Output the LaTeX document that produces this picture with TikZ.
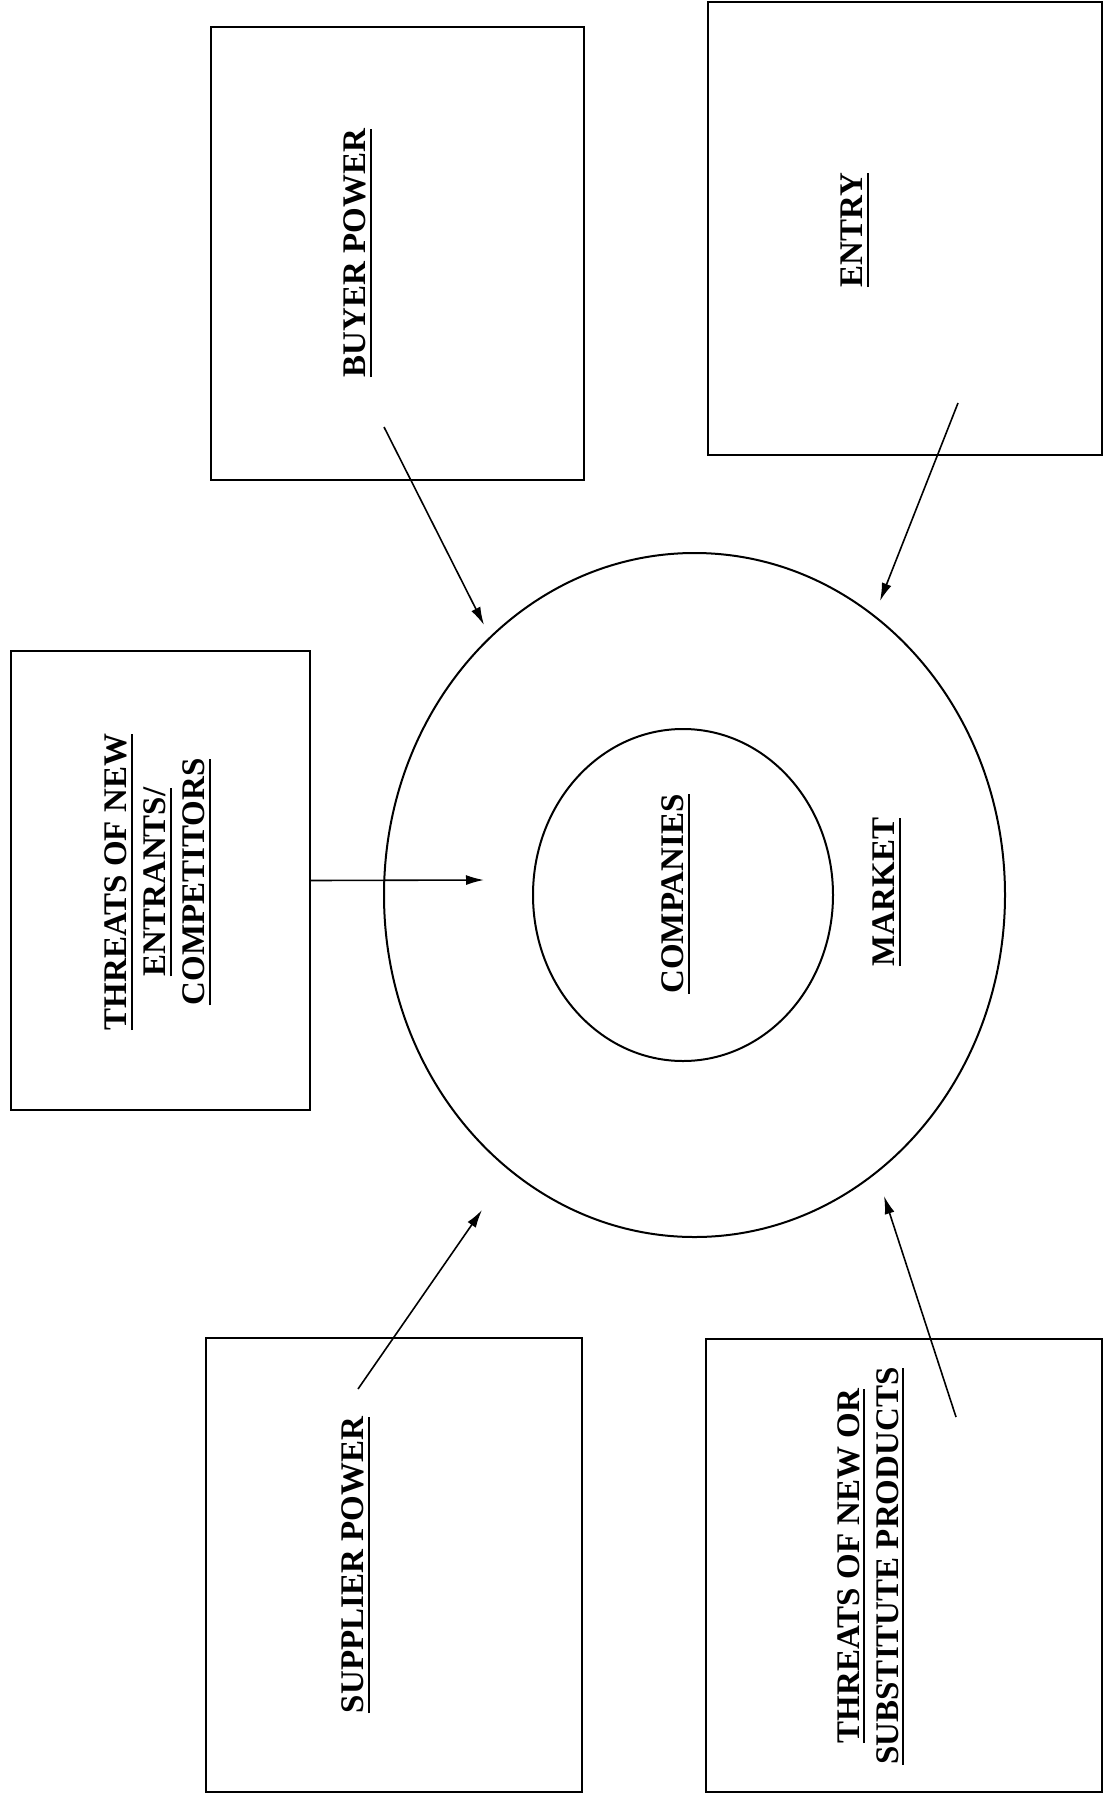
\documentclass[tikz,border=0pt]{standalone}
\usepackage{fontspec}
\setmainfont{Liberation Serif}
\usetikzlibrary{positioning,arrows.meta,calc,shapes.geometric}
\newcommand\forceul[1]{\setbox0\hbox{#1}\rlap{\rule[-3pt]{\wd0}{1.1pt}}\box0}

\begin{document}
\begin{tikzpicture}[x=0.5pt, y=-0.5pt,
    every node/.style={font=\fontsize{16.5}{19.5}\selectfont\bfseries, align=center},
    forcebox/.style={draw, line width=1pt, inner sep=0pt},
    forcetext/.style={rotate=90, inner sep=1pt},
    ring/.style={draw, ellipse, line width=1pt, inner sep=0pt},
    push/.style={-{Latex[length=9pt,width=5pt]}, line width=0.8pt}]
  \useasboundingbox (0,0) rectangle (1104,1798);

  % market and companies
  \node[ring, minimum width=310.5pt, minimum height=342pt] (market) at (694.5,895) {};
  \node[ring, minimum width=150pt, minimum height=166pt] (companies) at (683,895) {};
  \node[forcetext] (companiestext) at (676,894) {\forceul{COMPANIES}};
  \node[forcetext] (markettext) at (887,892) {\forceul{MARKET}};

  % the forces
  \node[forcebox, minimum width=186.5pt, minimum height=226.5pt] (buyer) at (397.5,253.5) {};
  \node[forcebox, minimum width=197pt, minimum height=226.5pt] (entry) at (905,228.5) {};
  \node[forcebox, minimum width=149.5pt, minimum height=229.5pt] (threats) at (160.5,880.5) {};
  \node[forcebox, minimum width=188pt, minimum height=227pt] (supplier) at (394,1565) {};
  \node[forcebox, minimum width=198pt, minimum height=226.5pt] (substitute) at (904,1565.5) {};

  \node[forcetext] (buyertext) at (358,253) {\forceul{BUYER POWER}};
  \node[forcetext] (entrytext) at (855,230) {\forceul{ENTRY}};
  \node[forcetext] (threatstext) at (158,882)
    {\forceul{THREATS OF NEW}\\\forceul{ENTRANTS/}\\\forceul{COMPETITORS}};
  \node[forcetext] (suppliertext) at (356,1565) {\forceul{SUPPLIER POWER}};
  \node[forcetext] (substitutetext) at (871,1566)
    {\forceul{THREATS OF NEW OR}\\\forceul{SUBSTITUTE PRODUCTS}};

  % arrow ends
  \coordinate (b1) at (384,427);   \coordinate (b2) at (484,625);
  \coordinate (e1) at (958,403);   \coordinate (e2) at (880,601);
  \coordinate (t2) at (484,880);
  \coordinate (s1) at (358,1389);  \coordinate (s2) at (482,1210);
  \coordinate (p1) at (956,1417);  \coordinate (p2) at (884,1196);

  \foreach \x/\y in {b1/b2,e1/e2,threats.east/t2,s1/s2,p1/p2}
    \draw[push] (\x) -- (\y);
\end{tikzpicture}
\end{document}
